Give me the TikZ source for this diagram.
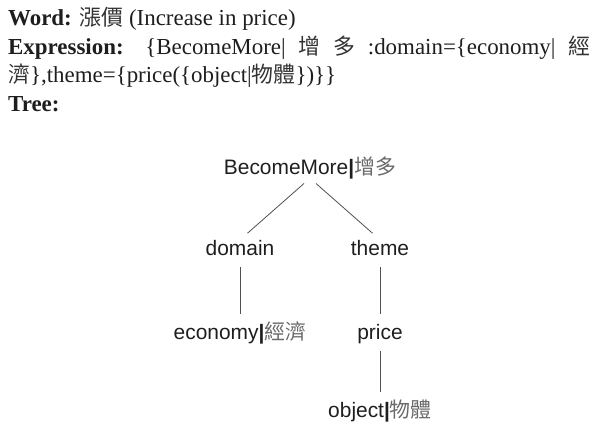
\documentclass[tikz,border=0pt]{standalone}
\usepackage{fontspec}
\setmainfont{Liberation Serif}
\newfontfamily\cjk{Noto Sans CJK TC}
\newfontfamily\arialf{Liberation Sans}
\definecolor{txt}{HTML}{1E1E1E}
\definecolor{cjkgray}{HTML}{6A6A6A}
\definecolor{hcjk}{HTML}{333333}
\definecolor{linegray}{HTML}{505050}
\tikzset{
  hdr/.style={anchor=base west, inner sep=0pt, text=txt, font=\fontsize{23}{27}\selectfont},
  tnode/.style={anchor=base, inner sep=0pt, text height=15bp, text depth=4bp, text=txt, font=\arialf\fontsize{21}{25}\selectfont},
  tedge/.style={draw=linegray, line width=0.8bp, shorten <=8bp, shorten >=10bp}
}
\newcommand{\cj}[1]{{\cjk\color{cjkgray}#1}}
\newcommand{\hc}[1]{{\cjk\color{hcjk}\fontsize{22}{27}\selectfont #1}}
\begin{document}
\begin{tikzpicture}[x=1bp,y=-1bp]
\useasboundingbox (0,0) rectangle (597,421);
\fill[white] (0,0) rectangle (597,421);
% header text
\node[hdr] (w) at (8,25) {\textbf{Word:} \hc{漲價} (Increase in price)};
\node[hdr] (e) at (8,54) {\makebox[582bp][s]{\textbf{Expression:} \{BecomeMore| \hc{增} \hc{多} :domain=\{economy| \hc{經}}};
\node[hdr] (e2) at (8,82) {\hc{濟}\},theme=\{price(\{object|\hc{物體}\})\}\}};
\node[hdr] (t) at (8,111) {\textbf{Tree:}};
% tree
\node[tnode] (root) at (310,174) {BecomeMore\textbf{|}\cj{增多}};
\node[tnode] (dom) at (240,255) {domain};
\node[tnode] (thm) at (380,255) {theme};
\node[tnode] (eco) at (240,339) {economy\textbf{|}\cj{經濟}};
\node[tnode] (pri) at (380,339) {price};
\node[tnode] (obj) at (380,417) {object\textbf{|}\cj{物體}};
\draw[tedge] (root.south) -- (dom.north);
\draw[tedge] (root.south) -- (thm.north);
\draw[tedge] (dom.south) -- (eco.north);
\draw[tedge] (thm.south) -- (pri.north);
\draw[tedge] (pri.south) -- (obj.north);
\end{tikzpicture}
\end{document}
